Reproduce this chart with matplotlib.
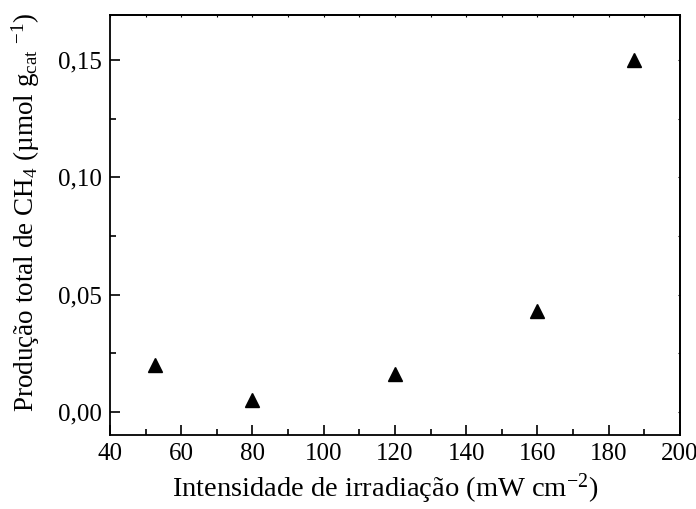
import matplotlib
matplotlib.use("Agg")
import matplotlib.pyplot as plt
from matplotlib.ticker import MultipleLocator, FuncFormatter

plt.rcParams['font.family'] = ['Liberation Serif', 'DejaVu Serif']
plt.rcParams['mathtext.fontset'] = 'custom'
plt.rcParams['mathtext.rm'] = 'Liberation Serif'
plt.rcParams['mathtext.it'] = 'Liberation Serif:italic'
plt.rcParams['mathtext.default'] = 'rm'

# Irradiation intensity (mW cm-2) and total CH4 production
intensity = [52.5, 80, 120, 160, 187]
ch4_total = [0.020, 0.005, 0.016, 0.043, 0.150]

x_ticks = [40, 60, 80, 100, 120, 140, 160, 180, 200]
y_ticks = [0.00, 0.05, 0.10, 0.15]

fig = plt.figure(figsize=(6.96, 5.09), dpi=100)
ax = fig.add_axes([0.158, 0.1454, 0.819, 0.8251])

ax.plot(intensity, ch4_total, linestyle='none', marker='^', markersize=10,
        color='black')

ax.set_xlim(40, 200)
ax.set_ylim(-0.0098, 0.1692)
ax.set_xticks(x_ticks)
ax.set_yticks(y_ticks)
ax.xaxis.set_minor_locator(MultipleLocator(10))
ax.yaxis.set_minor_locator(MultipleLocator(0.025))
ax.yaxis.set_major_formatter(FuncFormatter(lambda v, p: f"{v:.2f}".replace('.', ',')))

ax.tick_params(which='both', direction='in', labelsize=18, width=1.2)
ax.tick_params(which='major', length=7, pad=6)
ax.tick_params(which='minor', length=4)

# faint short ticks on the opposite spines
sec_x = ax.secondary_xaxis('top')
sec_x.set_xticks(x_ticks)
sec_x.xaxis.set_minor_locator(MultipleLocator(10))
sec_x.tick_params(which='both', direction='in', length=1.5, width=0.8, labeltop=False)
sec_y = ax.secondary_yaxis('right')
sec_y.set_yticks(y_ticks)
sec_y.yaxis.set_minor_locator(MultipleLocator(0.025))
sec_y.tick_params(which='both', direction='in', length=1.5, width=0.8, labelright=False)

for sp in ax.spines.values():
    sp.set_linewidth(1.3)
for sec in (sec_x, sec_y):
    for sp in sec.spines.values():
        sp.set_linewidth(1.3)

ax.set_xlabel("Intensidade de irradiação (mW cm$^{-2}$)", fontsize=20.5)
ax.xaxis.set_label_coords(0.482, -0.086)
ax.set_ylabel("Produção total de CH$_4$ (µmol g$_{cat}$ $^{-1}$)", fontsize=19.5)
ax.yaxis.set_label_coords(-0.12, 0.529)

fig.savefig("out.png", dpi=100)
